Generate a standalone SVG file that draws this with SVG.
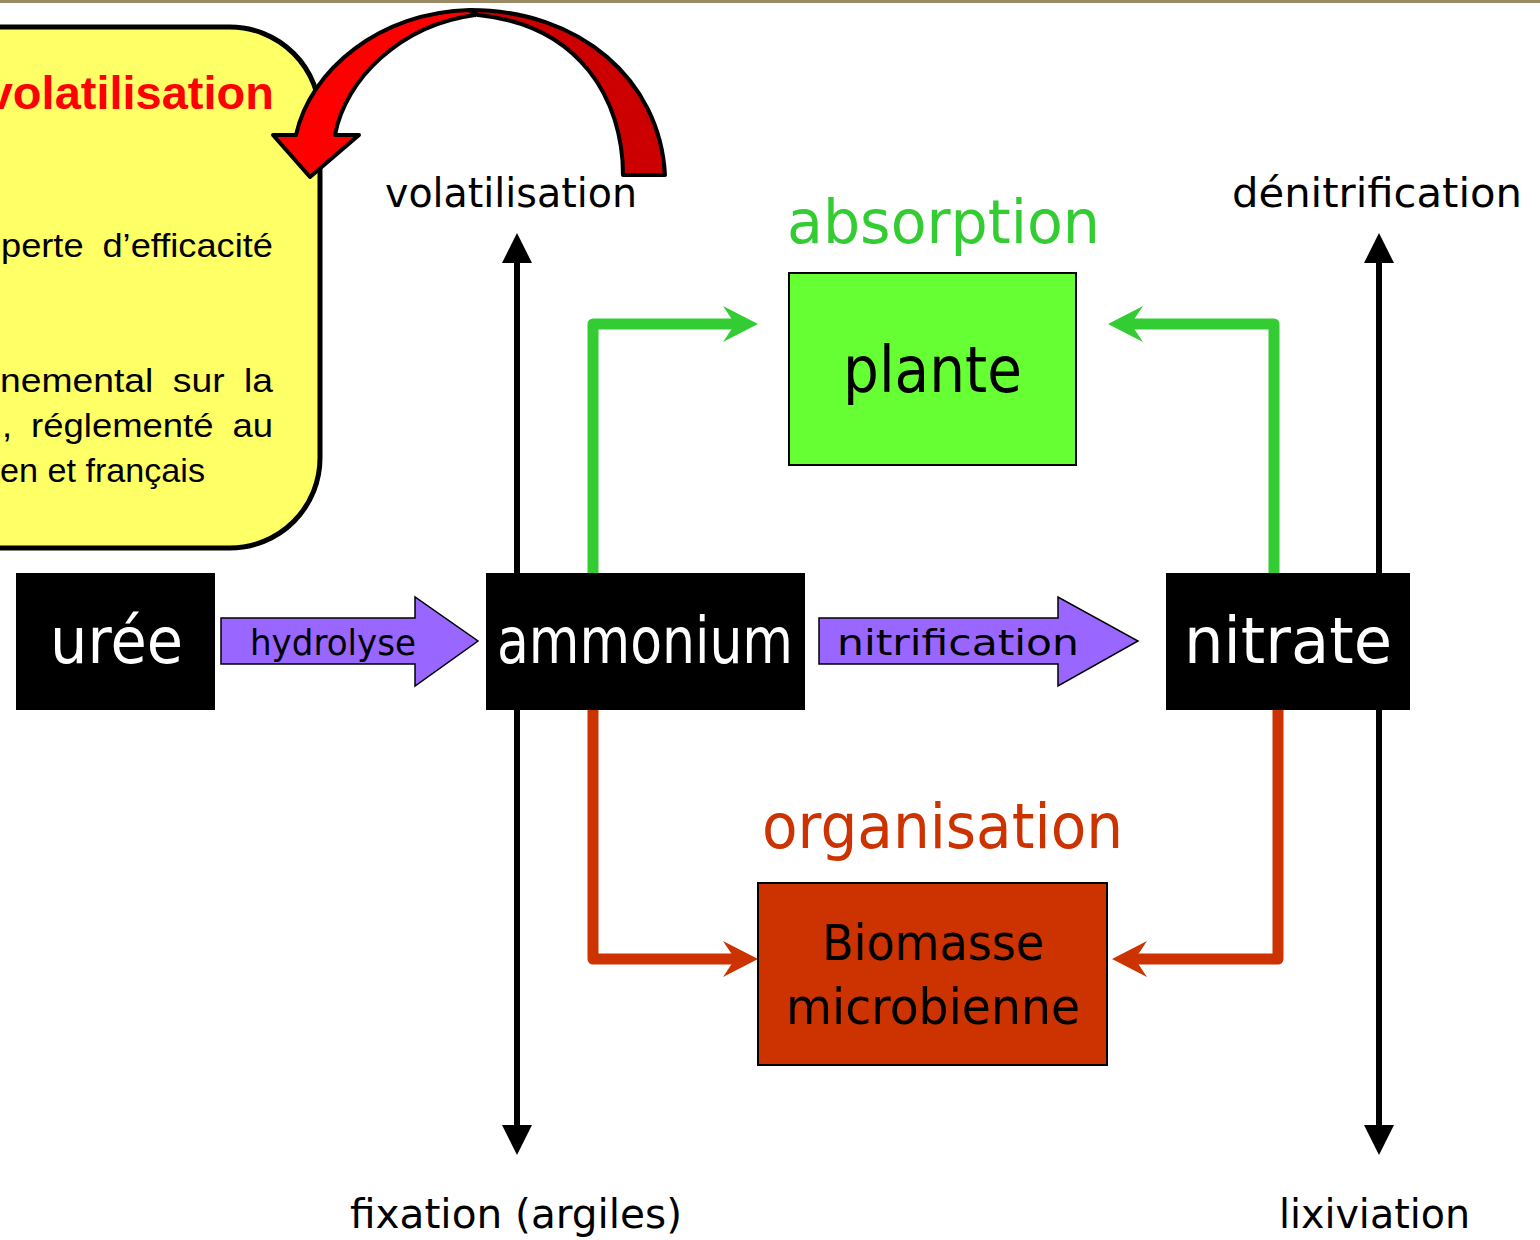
<svg xmlns="http://www.w3.org/2000/svg" width="1540" height="1240" viewBox="0 0 1540 1240">
<style>
.lbl{font-family:"DejaVu Sans","Liberation Sans",sans-serif;}
.box{font-family:"Liberation Sans",Arial,sans-serif;fill:#000;font-size:33px;}
.ax{stroke:#000;stroke-width:6;fill:none;}
.g{stroke:#33cc33;stroke-width:11;fill:none;stroke-linejoin:round;}
.r{stroke:#cc3300;stroke-width:11;fill:none;stroke-linejoin:round;}
.blk{fill:#000;}
.purple{fill:#9966ff;stroke:#000;stroke-width:1.5;}
</style>
<defs>
<marker id="stG" markerUnits="userSpaceOnUse" markerWidth="36" markerHeight="36" viewBox="0 0 35 36" refX="20" refY="18" orient="auto"><path d="M0,0 L35,18 L0,36 L12,18 Z" fill="#33cc33"/></marker>
<marker id="stR" markerUnits="userSpaceOnUse" markerWidth="36" markerHeight="36" viewBox="0 0 35 36" refX="20" refY="18" orient="auto"><path d="M0,0 L35,18 L0,36 L12,18 Z" fill="#cc3300"/></marker>
</defs>
<rect x="0" y="0" width="1540" height="1240" fill="#fff"/>
<rect x="0" y="0" width="1540" height="3" fill="#988a64"/>

<g id="note">
<rect x="-100" y="27" width="420" height="521" rx="90" ry="90" fill="#ffff66" stroke="#000" stroke-width="5"/>
<text x="274" y="109" text-anchor="end" style="font-family:'Liberation Sans',Arial,sans-serif;font-weight:bold;font-size:47px;fill:#ff0000">volatilisation</text>
<text class="box" x="1" y="257" word-spacing="8" textLength="272" lengthAdjust="spacingAndGlyphs">perte d’efficacité</text>
<text class="box" x="0" y="392" word-spacing="8" textLength="273" lengthAdjust="spacingAndGlyphs">nemental sur la</text>
<text class="box" x="2" y="437" word-spacing="8" textLength="271" lengthAdjust="spacingAndGlyphs">, réglementé au</text>
<text class="box" x="0" y="482" textLength="205" lengthAdjust="spacingAndGlyphs">en et français</text>
</g>

<g id="curved-arrow" stroke="#000" stroke-width="4" stroke-linejoin="round">
<path d="M470,10 C580,10 660,80 665,175 L623,175 C623,100 580,25 478,15 Z" fill="#cc0000"/>
<path d="M273,135 L296,135 C310,70 380,12 470,10 L475,15 C400,25 345,80 335,135 L359,135 L310,177 Z" fill="#ff0000"/>
</g>

<g id="connectors">
<line class="ax" x1="517" y1="260" x2="517" y2="1128"/>
<polygon class="blk" points="517,233 502,263 532,263"/>
<polygon class="blk" points="517,1155 502,1125 532,1125"/>
<line class="ax" x1="1379" y1="260" x2="1379" y2="1128"/>
<polygon class="blk" points="1379,233 1364,263 1394,263"/>
<polygon class="blk" points="1379,1155 1364,1125 1394,1125"/>
<path class="g" d="M593,575 L593,324 L743,324" marker-end="url(#stG)"/>
<path class="g" d="M1274,575 L1274,324 L1123,324" marker-end="url(#stG)"/>
<path class="r" d="M593,708 L593,959 L743,959" marker-end="url(#stR)"/>
<path class="r" d="M1278,708 L1278,959 L1127,959" marker-end="url(#stR)"/>
<g id="hydrolyse">
<polygon class="purple" points="221,618 415,618 415,597 478,641 415,686 415,664 221,664"/>
<text class="lbl" x="250" y="655" font-size="36" textLength="166" lengthAdjust="spacingAndGlyphs">hydrolyse</text>
</g>
<g id="nitrification">
<polygon class="purple" points="819,618 1058,618 1058,597 1138,641 1058,686 1058,664 819,664"/>
<text class="lbl" x="837" y="655" font-size="36" textLength="242" lengthAdjust="spacingAndGlyphs">nitrification</text>
</g>
</g>

<g id="labels" class="lbl">
<text x="385" y="207" font-size="40" textLength="252" lengthAdjust="spacingAndGlyphs">volatilisation</text>
<text x="1232" y="207" font-size="40" textLength="290" lengthAdjust="spacingAndGlyphs">dénitrification</text>
<text x="350" y="1228" font-size="40" textLength="332" lengthAdjust="spacingAndGlyphs">fixation (argiles)</text>
<text x="1279" y="1228" font-size="40" textLength="191" lengthAdjust="spacingAndGlyphs">lixiviation</text>
<text x="787" y="243" font-size="60" fill="#33cc33" textLength="313" lengthAdjust="spacingAndGlyphs">absorption</text>
<text x="762" y="848" font-size="62" fill="#cc3300" textLength="361" lengthAdjust="spacingAndGlyphs">organisation</text>
</g>

<g id="uree">
<rect x="16" y="573" width="199" height="137" fill="#000"/>
<text class="lbl" x="50" y="663" font-size="64" fill="#fff" textLength="133" lengthAdjust="spacingAndGlyphs">urée</text>
</g>
<g id="ammonium">
<rect x="486" y="573" width="319" height="137" fill="#000"/>
<text class="lbl" x="497" y="663" font-size="64" fill="#fff" textLength="296" lengthAdjust="spacingAndGlyphs">ammonium</text>
</g>
<g id="nitrate">
<rect x="1166" y="573" width="244" height="137" fill="#000"/>
<text class="lbl" x="1184" y="663" font-size="64" fill="#fff" textLength="208" lengthAdjust="spacingAndGlyphs">nitrate</text>
</g>
<g id="plante">
<rect x="789" y="273" width="287" height="192" fill="#66ff33" stroke="#000" stroke-width="2"/>
<text class="lbl" x="843" y="392" font-size="64" textLength="179" lengthAdjust="spacingAndGlyphs">plante</text>
</g>
<g id="biomasse">
<rect x="758" y="883" width="349" height="182" fill="#cc3300" stroke="#000" stroke-width="2"/>
<text class="lbl" x="822" y="960" font-size="50" textLength="222" lengthAdjust="spacingAndGlyphs">Biomasse</text>
<text class="lbl" x="786" y="1024" font-size="50" textLength="294" lengthAdjust="spacingAndGlyphs">microbienne</text>
</g>
</svg>
